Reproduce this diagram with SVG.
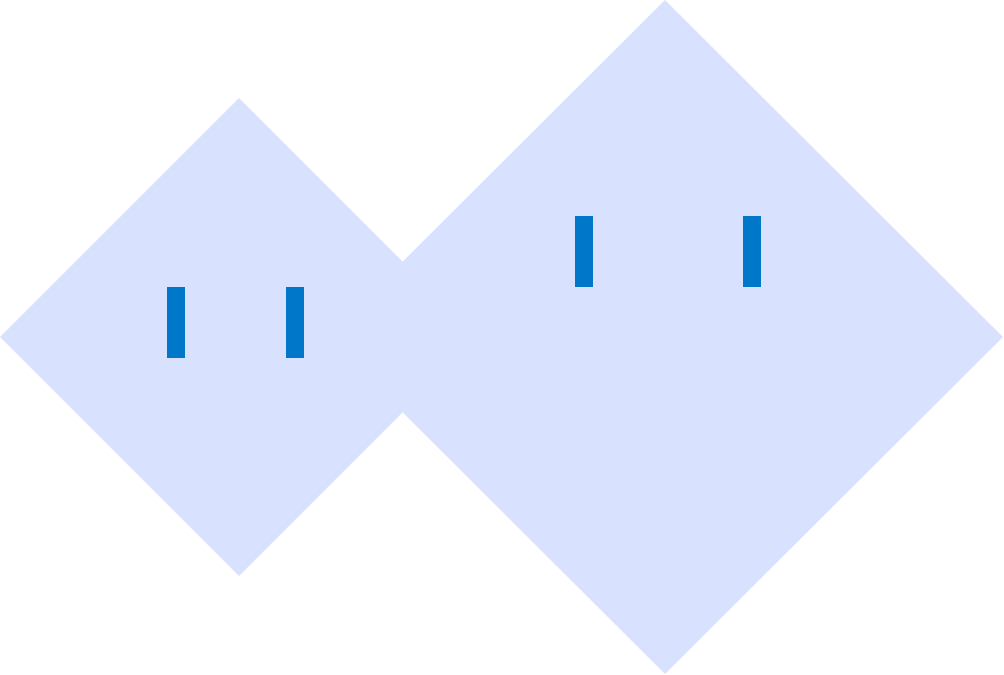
<svg xmlns="http://www.w3.org/2000/svg" width="1004" height="675" viewBox="0 0 1004 675">
<style>
.d{fill:#D8E2FF}
.b{fill:#0077C8}
</style>
<rect width="1004" height="675" fill="#FFFFFF"/>
<g id="left-diamond">
<polygon class="d" points="0,337 239,98 478,337 239,576"/>
</g>
<g id="right-diamond">
<polygon class="d" points="327,337 665,0 1003,337 665,674"/>
</g>
<g id="left-eyes">
<rect class="b" x="167" y="287" width="18" height="71"/>
<rect class="b" x="286" y="287" width="18" height="71"/>
</g>
<g id="right-eyes">
<rect class="b" x="575" y="216" width="18" height="71"/>
<rect class="b" x="743" y="216" width="18" height="71"/>
</g>
<g id="connectors"></g>
</svg>
